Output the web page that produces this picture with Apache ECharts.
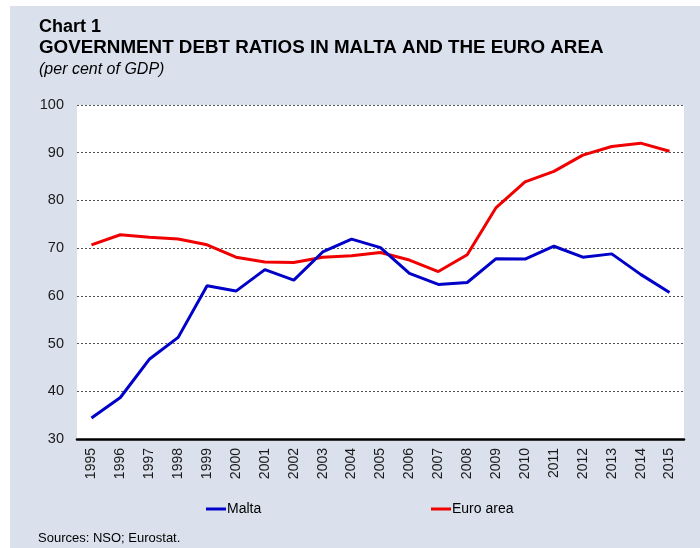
<!DOCTYPE html>
<html><head><meta charset="utf-8">
<script src="https://cdn.jsdelivr.net/npm/echarts@6/dist/echarts.min.js"></script>
<style>html,body{margin:0;padding:0;background:#fff;}#c{width:700px;height:548px;}</style>
</head><body><div id="c"></div>
<script>
var years = ['1995','1996','1997','1998','1999','2000','2001','2002','2003','2004','2005','2006','2007','2008','2009','2010','2011','2012','2013','2014','2015'];
var malta = [34.4,38.7,46.7,51.3,62.1,61.0,65.5,63.3,69.2,71.9,70.1,64.7,62.4,62.8,67.8,67.7,70.4,68.1,68.8,64.5,60.7];
var euroArea = [70.7,72.8,72.3,71.9,70.7,68.1,67.1,67.0,68.1,68.4,69.1,67.5,65.1,68.6,78.5,83.9,86.1,89.5,91.3,92.0,90.3];
var font = 'Liberation Sans, Arial, sans-serif';
var chart = echarts.init(document.getElementById('c'));
chart.setOption({
  animation: false,
  backgroundColor: '#ffffff',
  textStyle: {fontFamily: font},
  graphic: [
    {type:'rect', z:-10, silent:true, shape:{x:10, y:6, width:700, height:560}, style:{fill:'#dae1ed'}},
    {type:'text', x:39, y:27, style:{text:'Chart 1', font:'bold 18px ' + font, fill:'#000', textVerticalAlign:'middle'}},
    {type:'text', x:39, y:47.5, style:{text:'GOVERNMENT DEBT RATIOS IN MALTA AND THE EURO AREA', font:'bold 18.8px ' + font, fill:'#000', textVerticalAlign:'middle'}},
    {type:'text', x:39, y:70, style:{text:'(per cent of GDP)', font:'italic 16px ' + font, fill:'#000', textVerticalAlign:'middle'}},
    {type:'text', x:38, y:538, style:{text:'Sources: NSO; Eurostat.', font:'13px ' + font, fill:'#000', textVerticalAlign:'middle'}}
  ],
  grid: {left:77, right:16, top:105, bottom:109, show:true, backgroundColor:'#ffffff', borderWidth:0},
  legend: [
    {data:['Malta'], left:206, top:502, padding:0, icon:'rect', itemWidth:20, itemHeight:3,
     textStyle:{fontSize:14, color:'#000', fontFamily:font, padding:[0,0,0,-4]}},
    {data:['Euro area'], left:431, top:502, padding:0, icon:'rect', itemWidth:20, itemHeight:3,
     textStyle:{fontSize:14, color:'#000', fontFamily:font, padding:[0,0,0,-4]}}
  ],
  xAxis: {
    type:'category', data: years, boundaryGap:true,
    axisTick:{show:false},
    axisLine:{lineStyle:{color:'#000', width:2.5}},
    axisLabel:{rotate:90, fontSize:14, color:'#1a1a1a', margin:9, fontFamily:font},
    splitLine:{show:false}
  },
  yAxis: {
    type:'value', min:30, max:100, interval:10,
    axisLine:{show:false}, axisTick:{show:false},
    axisLabel:{fontSize:14.5, color:'#1a1a1a', margin:13, fontFamily:font},
    splitLine:{show:true, lineStyle:{color:'#555', width:1, type:[2,2]}}
  },
  series: [
    {name:'Malta', type:'line', data: malta, symbol:'none', lineStyle:{color:'#0000c8', width:3}, itemStyle:{color:'#0000c8'}, z:3},
    {name:'Euro area', type:'line', data: euroArea, symbol:'none', lineStyle:{color:'#f00000', width:3}, itemStyle:{color:'#f00000'}, z:2}
  ]
});
</script></body></html>
